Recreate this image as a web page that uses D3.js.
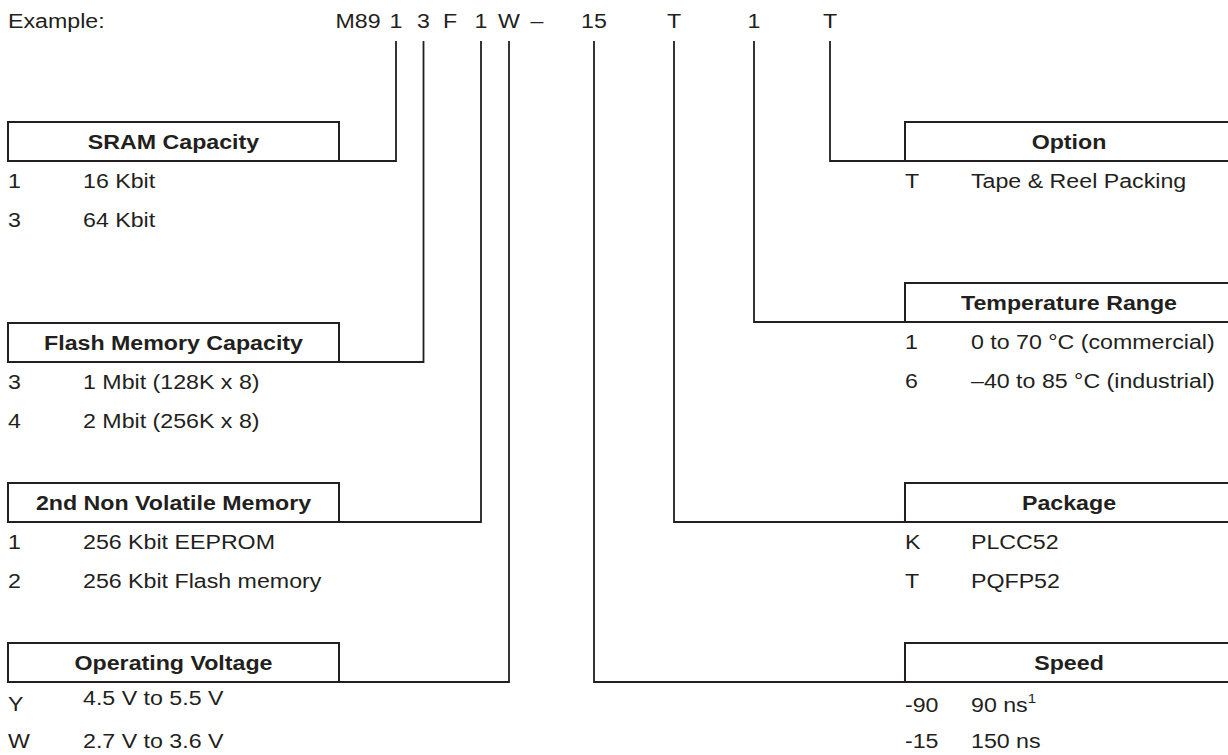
<!DOCTYPE html>
<html>
<head>
<meta charset="utf-8">
<script src="https://cdn.jsdelivr.net/npm/d3@7"></script>
<style>
  body { margin: 0; background: #fff; }
  svg { display: block; }
  text { font-family: "Liberation Sans", Arial, Helvetica, sans-serif; fill: #231f20; }
</style>
</head>
<body>
<svg id="chart"></svg>
<script>
// example part number, one entry per printed group
const codeParts = ['M89', '1', '3', 'F', '1', 'W', '\u2013', '15', 'T', '1', 'T'];

// field tables
const sramCodes = ['1', '3'];
const sramValues = ['16 Kbit', '64 Kbit'];
const flashCodes = ['3', '4'];
const flashValues = ['1 Mbit (128K x 8)', '2 Mbit (256K x 8)'];
const nvmCodes = ['1', '2'];
const nvmValues = ['256 Kbit EEPROM', '256 Kbit Flash memory'];
const voltageCodes = ['Y', 'W'];
const voltageValues = ['4.5 V to 5.5 V', '2.7 V to 3.6 V'];
const optionCodes = ['T'];
const optionValues = ['Tape & Reel Packing'];
const tempCodes = ['1', '6'];
const tempValues = ['0 to 70 \u00B0C (commercial)', '\u201340 to 85 \u00B0C (industrial)'];
const packageCodes = ['K', 'T'];
const packageValues = ['PLCC52', 'PQFP52'];
const speedCodes = ['-90', '-15'];
const speedValues = ['90 ns', '150 ns'];
const speedNotes = ['1', ''];

const fields = [
    { title: 'SRAM Capacity', part: 1, side: 'left', slot: 0, codes: sramCodes, values: sramValues },
    { title: 'Flash Memory Capacity', part: 2, side: 'left', slot: 1, codes: flashCodes, values: flashValues },
    { title: '2nd Non Volatile Memory', part: 4, side: 'left', slot: 2, codes: nvmCodes, values: nvmValues },
    { title: 'Operating Voltage', part: 5, side: 'left', slot: 3, codes: voltageCodes, values: voltageValues },
    { title: 'Option', part: 10, side: 'right', slot: 0, codes: optionCodes, values: optionValues },
    { title: 'Temperature Range', part: 9, side: 'right', slot: 1, codes: tempCodes, values: tempValues },
    { title: 'Package', part: 8, side: 'right', slot: 2, codes: packageCodes, values: packageValues },
    { title: 'Speed', part: 7, side: 'right', slot: 3, codes: speedCodes, values: speedValues, notes: speedNotes }
];

// layout
const width = 1228, height = 755;
const ink = '#231f20';
const stretch = 1.16;          // the reference text is a bit wide
const fontSize = 20;
const lineTop = 41;
const boxH = 39;

const partX = d3.scaleOrdinal()
    .domain(d3.range(codeParts.length))
    .range([358, 396, 423.5, 450, 481, 509, 537, 594, 674, 754, 830]);

const boxTop = {
    left: d3.scaleOrdinal().domain([0, 1, 2, 3]).range([122, 323, 483, 643]),
    right: d3.scaleOrdinal().domain([0, 1, 2, 3]).range([122, 283, 483, 643])
};
const boxX = { left: [8, 339], right: [905, 1233] };
const codeX = { left: 8, right: 905 };
const valueX = { left: 83, right: 971 };
const rowY = d3.scaleLinear().domain([0, 1]).range([27, 66]);

const svg = d3.select('#chart')
    .attr('width', width)
    .attr('height', height);

function label(g, x, y, str, anchor, bold) {
    return g.append('text')
        .attr('transform', `translate(${x}, ${y}) scale(${stretch}, 1)`)
        .attr('text-anchor', anchor || 'start')
        .attr('font-size', fontSize)
        .attr('font-weight', bold ? 'bold' : 'normal')
        .text(str);
}

// top line
label(svg, 8, 28, 'Example:');
codeParts.forEach((p, i) => label(svg, partX(i), 28, p, 'middle'));

fields.forEach(f => {
    const g = svg.append('g');
    const top = boxTop[f.side](f.slot);
    const bottom = top + boxH;
    const [x0, x1] = boxX[f.side];
    const px = partX(f.part);

    // connector from the part letter down and across to the box
    const joinX = f.side === 'left' ? x1 : x0;
    g.append('path')
        .attr('d', d3.line()([[px, lineTop], [px, bottom], [joinX, bottom]]))
        .attr('fill', 'none')
        .attr('stroke', ink)
        .attr('stroke-width', 1.8);

    g.append('rect')
        .attr('x', x0)
        .attr('y', top)
        .attr('width', x1 - x0)
        .attr('height', boxH)
        .attr('fill', 'none')
        .attr('stroke', ink)
        .attr('stroke-width', 2);

    label(g, (x0 + x1) / 2, top + boxH / 2 + 7, f.title, 'middle', true);

    f.codes.forEach((c, i) => {
        let y = bottom + rowY(i);
        if (f.title === 'Speed' && i === 0) y += 3;
        // the Y / 4.5 V row sits unevenly in the original
        const codeDy = f.title === 'Operating Voltage' && i === 0 ? 2 : 0;
        const valDy = f.title === 'Operating Voltage' && i === 0 ? -4 : 0;
        label(g, codeX[f.side], y + codeDy, c);
        const t = label(g, valueX[f.side], y + valDy, f.values[i]);
        if (f.notes && f.notes[i]) {
            t.append('tspan')
                .attr('font-size', 13)
                .attr('dy', -9)
                .text(f.notes[i]);
        }
    });
});
</script>
</body>
</html>
